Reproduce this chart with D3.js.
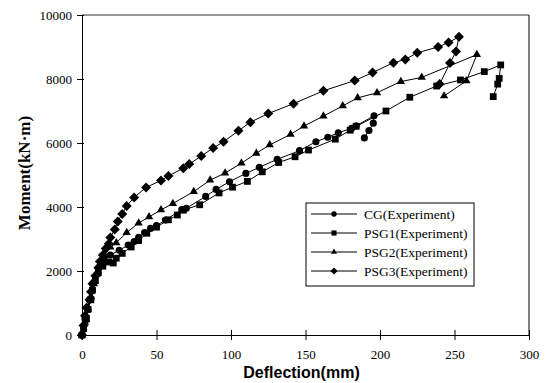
<!DOCTYPE html>
<html lang="en">
<head>
    <meta charset="UTF-8">
    <title>Moment vs Deflection</title>
    <script src="https://d3js.org/d3.v7.min.js"></script>
    <style>
        body { margin: 0; background: white; }
    </style>
</head>
<body>
<svg id="svg1" width="551" height="383" style="background:white;"></svg>

<script>
    // data: [deflection (mm), moment (kN·m)]
    const cgData = [[0,0],[1,250],[2,500],[4,800],[5,1100],[7,1400],[8,1650],[10,1900],[12,2150],[15,2350],
        [19,2500],[25,2650],[31,2810],[35,2920],[38,3050],[42,3200],[46,3330],[50,3420],[56,3590],[67,3920],
        [70,3960],[83,4330],[90,4550],[99,4790],[110,5050],[119,5240],[131,5490],[146,5760],[157,6040],
        [165,6180],[172,6320],[181,6460],[184,6540],[196,6850],[195.5,6620],[192.6,6390],[189.5,6160]];
    const psg1Data = [[0,0],[1,200],[3,500],[4,800],[6,1100],[7,1400],[9,1700],[11,1950],[14,2150],[18,2280],
        [21,2250],[23,2400],[27,2550],[33,2750],[38,2950],[43.5,3180],[50,3370],[58,3600],[64,3750],[68,3900],
        [79,4070],[92,4440],[101,4620],[111,4800],[121,5100],[132,5390],[143,5570],[152,5780],[170,6120],
        [180,6400],[184,6520],[204,7000],[220,7430],[238,7780],[254,7970],[270,8230],[281,8440],[280,8020],
        [279,7840],[276,7450]];
    const psg2Data = [[0,0],[2,400],[4,800],[6,1200],[8,1600],[10,1900],[12,2200],[15,2500],[19,2750],[23,2880],
        [30,3200],[38,3500],[45,3690],[53,3910],[61,4110],[75,4480],[86,4840],[96,5060],[107,5370],[117,5680],
        [126,5940],[140,6270],[149,6530],[162,6840],[175,7160],[185,7410],[198,7570],[214,7920],[228,8050],
        [265,8760],[258,7940],[243,7470]];
    const psg3Data = [[0,0],[1,300],[2,600],[3,850],[5,1100],[6,1350],[7,1600],[9,1850],[11,2100],[12,2300],
        [14,2500],[16,2700],[18,2850],[19,3050],[22,3300],[24,3550],[27,3780],[30,4030],[35,4300],[43,4610],
        [53,4830],[58,4970],[68,5210],[72,5340],[80,5590],[88,5840],[95,6040],[105,6380],[113,6650],[125,6920],
        [142,7230],[162,7630],[183,7950],[195,8200],[209,8510],[217,8610],[225,8820],[239,9000],[246,9140],
        [253,9320],[251,8860],[247,8500],[240,7840]];

    const seriesNames = ["CG(Experiment)", "PSG1(Experiment)", "PSG2(Experiment)", "PSG3(Experiment)"];
    const xTicks = [0, 50, 100, 150, 200, 250, 300];
    const yTicks = [0, 2000, 4000, 6000, 8000, 10000];

    const serif = "'Liberation Serif', 'Times New Roman', serif";

    // svg configuration
    const svg1 = d3.select("svg#svg1");
    const margin = {left: 82, right: 22, top: 15, bottom: 48};
    const chartWidth = 551 - margin.left - margin.right;
    const chartHeight = 383 - margin.top - margin.bottom;

    const xScale = d3.scaleLinear().domain([0, 300]).range([0, chartWidth]);
    const yScale = d3.scaleLinear().domain([0, 10000]).range([chartHeight, 0]);

    const chart = svg1.append("g")
        .attr("transform", `translate(${margin.left},${margin.top})`);

    // frame: top and right edges
    chart.append("line").attr("x1", 0).attr("x2", chartWidth).attr("y1", 0).attr("y2", 0)
        .attr("stroke", "#777").attr("stroke-width", 1.5);
    chart.append("line").attr("x1", chartWidth).attr("x2", chartWidth).attr("y1", 0).attr("y2", chartHeight)
        .attr("stroke", "#000").attr("stroke-width", 1);

    // axes (ticks cross the axis line)
    const xAxis = chart.append("g")
        .attr("transform", `translate(0,${chartHeight})`)
        .call(d3.axisBottom(xScale).tickValues(xTicks).tickFormat(d3.format("d"))
            .tickSize(5).tickPadding(10).tickSizeOuter(0));
    xAxis.selectAll(".tick line").attr("y1", -5);
    xAxis.select(".domain").attr("stroke", "#000");

    const yAxis = chart.append("g")
        .call(d3.axisLeft(yScale).tickValues(yTicks).tickFormat(d3.format("d"))
            .tickSize(5).tickPadding(5).tickSizeOuter(0));
    yAxis.selectAll(".tick line").attr("x1", 2);
    yAxis.select(".domain").attr("stroke", "#000");

    chart.selectAll(".tick text")
        .attr("font-family", serif)
        .attr("font-size", 13)
        .attr("fill", "#000");

    // axis titles
    svg1.append("text")
        .attr("x", margin.left + xScale(150) - 4)
        .attr("y", 378)
        .attr("text-anchor", "middle")
        .style("font-family", "'Liberation Sans', Arial, sans-serif")
        .style("font-weight", "bold")
        .style("font-size", "16px")
        .text("Deflection(mm)");

    svg1.append("text")
        .attr("transform", "translate(30,173) rotate(-90)")
        .attr("text-anchor", "middle")
        .style("font-family", serif)
        .style("font-weight", "bold")
        .style("font-size", "17px")
        .text("Moment(kN·m)");

    // symbols
    const symbols = [
        {type: d3.symbolCircle, size: 40, rotate: 0},
        {type: d3.symbolSquare, size: 46, rotate: 0},
        {type: d3.symbolTriangle, size: 30, rotate: 0},
        {type: d3.symbolSquare, size: 50, rotate: 45}
    ];

    const allData = [cgData, psg1Data, psg2Data, psg3Data];

    const lineGen = d3.line()
        .x(d => xScale(d[0]))
        .y(d => yScale(d[1]));

    const seriesG = chart.selectAll("g.series")
        .data(allData)
        .join("g")
        .attr("class", "series");

    seriesG.append("path")
        .attr("fill", "none")
        .attr("stroke", "#000")
        .attr("stroke-width", 1)
        .attr("d", d => lineGen(d));

    seriesG.each(function(d, i) {
        d3.select(this).selectAll("path.pt")
            .data(d)
            .join("path")
            .attr("class", "pt")
            .attr("d", d3.symbol().type(symbols[i].type).size(symbols[i].size))
            .attr("transform", p => `translate(${xScale(p[0])},${yScale(p[1])}) rotate(${symbols[i].rotate})`)
            .attr("fill", "#000");
    });

    // legend
    const legend = svg1.append("g").attr("transform", "translate(306,203)");
    legend.append("rect")
        .attr("width", 168).attr("height", 83)
        .attr("fill", "white").attr("stroke", "#000").attr("stroke-width", 1);

    const legendSizes = [22, 26, 16, 26];
    seriesNames.forEach((name, i) => {
        const y = 11 + i * 19;
        legend.append("line")
            .attr("x1", 5).attr("x2", 51).attr("y1", y).attr("y2", y)
            .attr("stroke", "#000");
        legend.append("path")
            .attr("d", d3.symbol().type(symbols[i].type).size(legendSizes[i]))
            .attr("transform", `translate(28,${y}) rotate(${symbols[i].rotate})`)
            .attr("fill", "#000");
        legend.append("text")
            .attr("x", 58).attr("y", y + 4.5)
            .style("font-family", serif)
            .style("font-size", "13.5px")
            .text(name);
    });
</script>
</body>
</html>
